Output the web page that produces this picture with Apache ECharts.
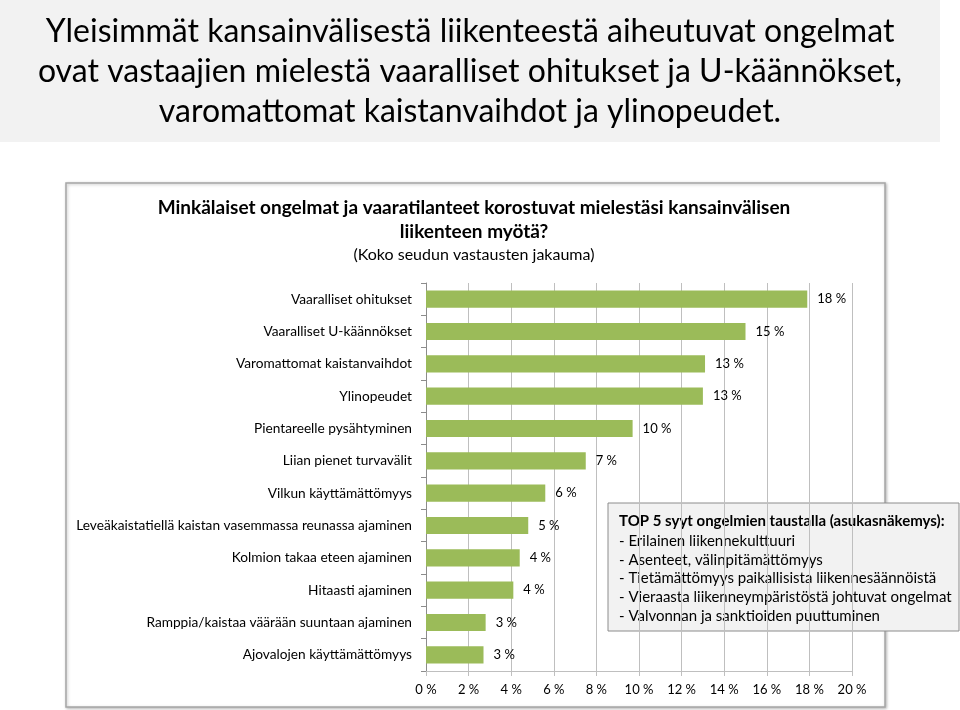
<!DOCTYPE html>
<html><head><meta charset="utf-8">
<script src="https://cdn.jsdelivr.net/npm/echarts@6/dist/echarts.min.js"></script>
<style>html,body{margin:0;padding:0;background:#fff}#c{width:960px;height:710px}</style>
</head><body><div id="c"></div>
<script>
const categories = [
  "Vaaralliset ohitukset",
  "Vaaralliset U-käännökset",
  "Varomattomat kaistanvaihdot",
  "Ylinopeudet",
  "Pientareelle pysähtyminen",
  "Liian pienet turvavälit",
  "Vilkun käyttämättömyys",
  "Leveäkaistatiellä kaistan vasemmassa reunassa ajaminen",
  "Kolmion takaa eteen ajaminen",
  "Hitaasti ajaminen",
  "Ramppia/kaistaa väärään suuntaan ajaminen",
  "Ajovalojen käyttämättömyys"
];
const values = [17.9, 15.0, 13.1, 13.0, 9.7, 7.5, 5.6, 4.8, 4.4, 4.1, 2.8, 2.7];
const labelsShown = [18, 15, 13, 13, 10, 7, 6, 5, 4, 4, 3, 3];
const xTicks = [0, 2, 4, 6, 8, 10, 12, 14, 16, 18, 20];
const headline = ["Yleisimmät kansainvälisestä liikenteestä aiheutuvat ongelmat", "ovat vastaajien mielestä vaaralliset ohitukset ja U-käännökset,", "varomattomat kaistanvaihdot ja ylinopeudet."];
const chartTitle = ["Minkälaiset ongelmat ja vaaratilanteet korostuvat mielestäsi kansainvälisen", "liikenteen myötä?"];
const chartSub = "(Koko seudun vastausten jakauma)";
const boxTitle = "TOP 5 syyt ongelmien taustalla (asukasnäkemys):";
const boxLines = ["- Erilainen liikennekulttuuri", "- Asenteet, välinpitämättömyys", "- Tietämättömyys paikallisista liikennesäännöistä", "- Vieraasta liikenneympäristöstä johtuvat ongelmat", "- Valvonnan ja sanktioiden puuttuminen"];

const F = "Lato, 'Open Sans', sans-serif";
const chart = echarts.init(document.getElementById('c'));
const g = [
  {type:'rect', shape:{x:0,y:0,width:940,height:142}, style:{fill:'#f2f2f2'}, z:-10},
  {type:'rect', shape:{x:66,y:183,width:819,height:524}, style:{fill:'#fff', stroke:'#a6a6a6', lineWidth:1.5, shadowBlur:3, shadowColor:'rgba(0,0,0,0.25)', shadowOffsetX:1, shadowOffsetY:1}, z:-5},
  {type:'text', style:{x:474, y:255, text:chartSub, font:"16px "+F, fill:'#000', textAlign:'center', textVerticalAlign:'middle'}},
  {type:'group', x:608, y:503, z:100, children:[
    {type:'rect', shape:{x:0,y:0,width:351,height:128}, style:{fill:'#f2f2f2', stroke:'#8c8c8c', lineWidth:1}},
    {type:'text', style:{x:11, y:18, text:boxTitle, font:"bold 15px "+F, fill:'#000', textVerticalAlign:'middle'}}
  ]}
];
headline.forEach((t,i)=>g.push({type:'text', style:{x:470, y:32+i*40, text:t, font:"32px "+F, fill:'#000', textAlign:'center', textVerticalAlign:'middle'}}));
chartTitle.forEach((t,i)=>g.push({type:'text', style:{x:474, y:208+i*24, text:t, font:"bold 19px "+F, fill:'#000', textAlign:'center', textVerticalAlign:'middle'}}));
boxLines.forEach((t,i)=>g[3].children.push({type:'text', style:{x:11, y:38+i*18.8, text:t, font:"15px "+F, fill:'#000', textVerticalAlign:'middle'}}));

chart.setOption({
  animation: false,
  backgroundColor: '#fff',
  graphic: g,
  grid: {left:426, right:108, top:283, bottom:39, containLabel:false},
  xAxis: {
    type:'value', min:0, max:20, interval:2,
    axisLabel:{formatter:v=>v+' %', color:'#000', fontFamily:F, fontSize:13, margin:12},
    splitLine:{show:true, lineStyle:{color:'#bfbfbf', width:1}},
    axisLine:{show:true, lineStyle:{color:'#bfbfbf'}},
    axisTick:{show:true, length:5, lineStyle:{color:'#bfbfbf'}}
  },
  yAxis: {
    type:'category', data:categories, inverse:true,
    axisLabel:{color:'#000', fontFamily:F, fontSize:13.7, margin:14},
    axisLine:{show:true, lineStyle:{color:'#8c8c8c'}},
    axisTick:{show:true, length:5, lineStyle:{color:'#8c8c8c'}}
  },
  series: [{
    type:'bar', data:values, barCategoryGap:'47%',
    itemStyle:{color:'#9bbb59'},
    label:{show:true, position:'right', distance:10, color:'#000', fontFamily:F, fontSize:13,
      formatter:p=>labelsShown[p.dataIndex]+' %'}
  }]
});
</script></body></html>
